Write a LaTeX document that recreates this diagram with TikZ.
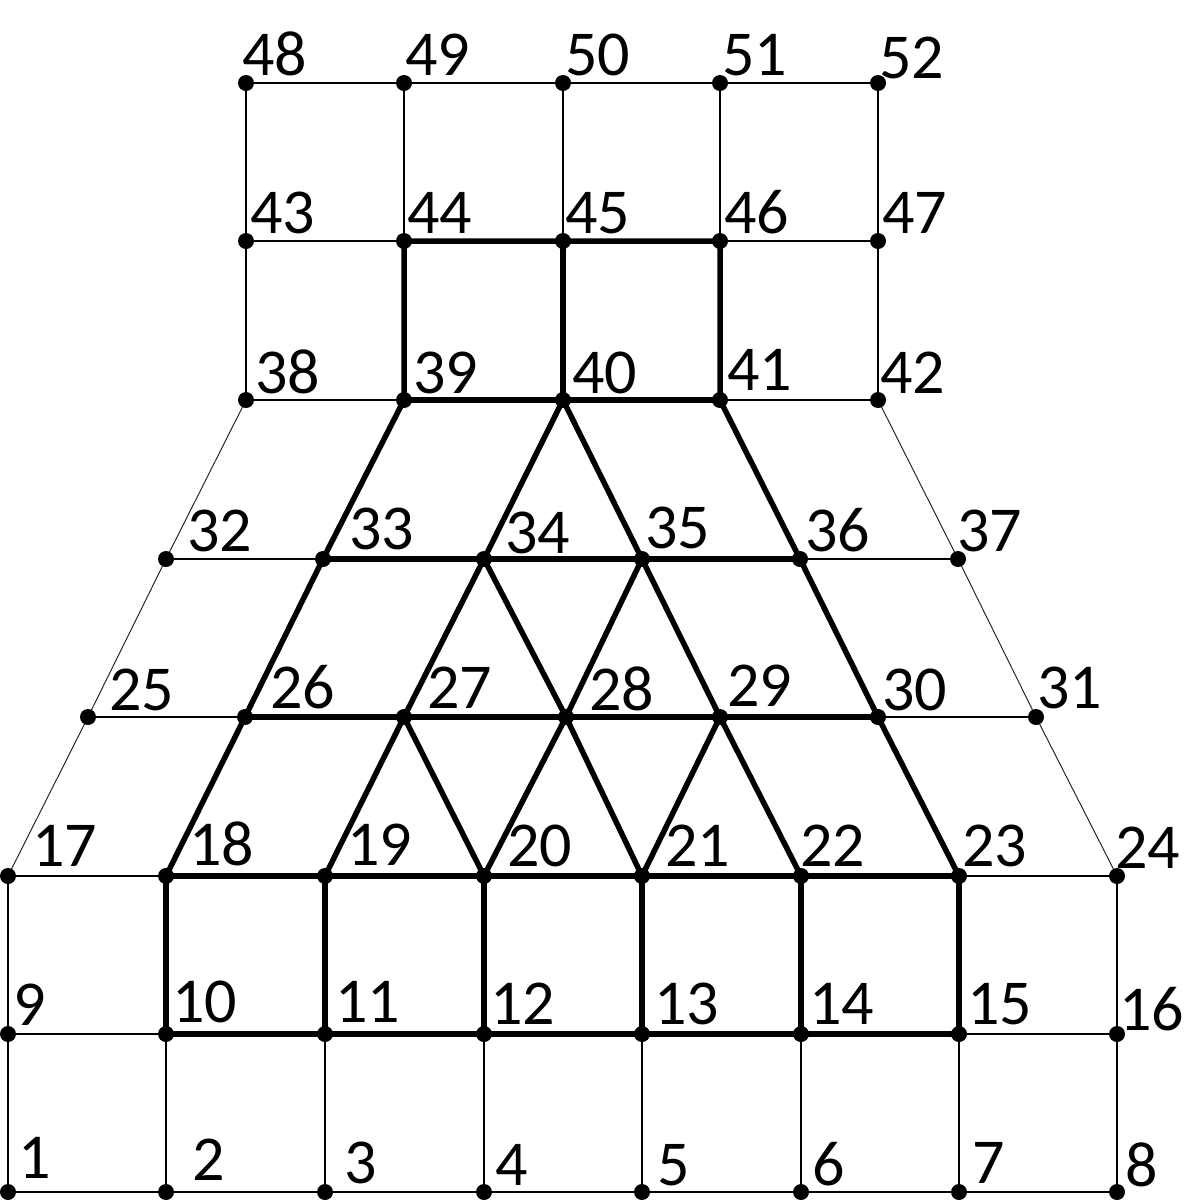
\documentclass[tikz,border=0pt]{standalone}
\usepackage{fontspec}
\setmainfont{Carlito}
\begin{document}
\begin{tikzpicture}[x=1pt,y=-1pt,
  dot/.style={circle,fill=black,inner sep=0pt,minimum size=16pt},
  lab/.style={anchor=base west,inner sep=0pt,font=\fontsize{64}{64}\selectfont},
  thinline/.style={line width=2pt,black},
  slantline/.style={line width=1pt,black!85},
  thickline/.style={line width=5.5pt,black,line join=round}]
\useasboundingbox (0,0) rectangle (1200,1200);
% nodes
\foreach \n/\x/\y in {1/8/1192,2/166/1192,3/325/1192,4/484/1192,5/642/1192,6/801/1192,7/959/1192,8/1117/1192,
 9/8/1034,10/166/1034,11/325/1034,12/484/1034,13/642/1034,14/801/1034,15/959/1034,16/1117/1034,
 17/8/876,18/166/876,19/325/876,20/484/876,21/642/876,22/801/876,23/959/876,24/1117/876,
 25/88/717,26/245/717,27/404/717,28/566/717,29/720/717,30/878/717,31/1036/717,
 32/166/559,33/323/559,34/484/559,35/642/559,36/800/559,37/958/559,
 38/246/400,39/404/400,40/563/400,41/720/400,42/878/400,
 43/246/241,44/404/241,45/563/241,46/720/241,47/878/241,
 48/246/83,49/404/83,50/563/83,51/720/83,52/878/83}
 {\coordinate (n\n) at (\x,\y);}
% thin edges
\draw[thinline] (n1)--(n2)--(n3)--(n4)--(n5)--(n6)--(n7)--(n8);
\draw[thinline] (n9)--(n10)--(n11)--(n12)--(n13)--(n14)--(n15)--(n16);
\draw[thinline] (n17)--(n18)--(n19)--(n20)--(n21)--(n22)--(n23)--(n24);
\draw[thinline] (n25)--(n26)--(n27)--(n28)--(n29)--(n30)--(n31);
\draw[thinline] (n32)--(n33)--(n34)--(n35)--(n36)--(n37);
\draw[thinline] (n38)--(n39)--(n40)--(n41)--(n42);
\draw[thinline] (n43)--(n44)--(n45)--(n46)--(n47);
\draw[thinline] (n48)--(n49)--(n50)--(n51)--(n52);
\foreach \a/\b/\c in {1/9/17,2/10/18,3/11/19,4/12/20,5/13/21,6/14/22,7/15/23,8/16/24,38/43/48,39/44/49,40/45/50,41/46/51,42/47/52}
 {\draw[thinline] (n\a)--(n\b)--(n\c);}
\draw[slantline] (n17)--(n25)--(n32)--(n38);
\draw[slantline] (n24)--(n31)--(n37)--(n42);
% thick edges
\draw[thickline] (n10)--(n11)--(n12)--(n13)--(n14)--(n15)--(n23)--(n22)--(n21)--(n20)--(n19)--(n18)--cycle;
\foreach \a/\b in {11/19,12/20,13/21,14/22}{\draw[thickline] (n\a)--(n\b);}
\draw[thickline] (n18)--(n26)--(n33)--(n39)--(n44)--(n45)--(n46)--(n41)--(n36)--(n30)--(n23);
\draw[thickline] (n26)--(n27)--(n28)--(n29)--(n30);
\draw[thickline] (n33)--(n34)--(n35)--(n36);
\draw[thickline] (n39)--(n40)--(n41);
\draw[thickline] (n40)--(n45);
\draw[thickline] (n19)--(n27)--(n34)--(n40)--(n35)--(n29)--(n22);
\draw[thickline] (n27)--(n20)--(n28)--(n21)--(n29);
\draw[thickline] (n34)--(n28)--(n35);
% dots
\foreach \n in {1,...,52}{\node[dot] (d\n) at (n\n) {};}
% labels
\foreach \n/\x/\y in {1/18/1178,2/192/1180,3/344/1183,4/495/1185,5/657/1185,6/812/1185,7/972/1183,8/1125/1186,
 9/13/1025,10/172/1022,11/335/1022,12/490/1024,13/654/1024,14/809/1024,15/967/1024,16/1119/1030,
 17/32/866,18/189/865,19/347/865,20/507/866,21/665/866,22/800/866,23/962/866,24/1115/868,
 25/109/710,26/270/708,27/427/708,28/589/710,29/727/706,30/882/710,31/1037/708,
 32/187/551,33/349/549,34/505/553,35/645/548,36/805/551,37/957/551,
 38/255/393,39/413/393,40/572/393,41/727/390,42/880/393,
 43/250/233,44/407/233,45/565/233,46/724/233,47/882/233,
 48/242/75,49/405/75,50/565/75,51/722/75,52/879/78}
 {\node[lab] (l\n) at (\x,\y) {\n};}
\end{tikzpicture}
\end{document}
